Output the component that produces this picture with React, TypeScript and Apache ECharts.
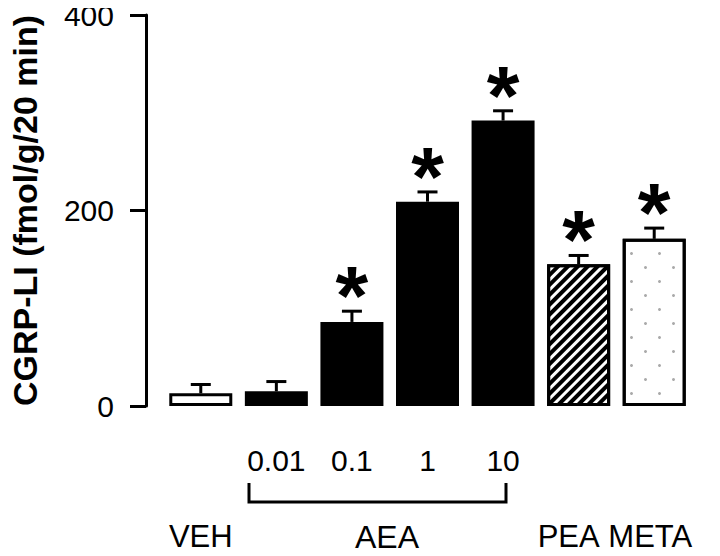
import React, { useEffect, useRef } from 'react';
import * as echarts from 'echarts';

const categories = ['VEH', '0.01', '0.1', '1', '10', 'PEA', 'META'];
const doseLabels = ['', '0.01', '0.1', '1', '10', '', ''];
const groupLabels = ['VEH', '', '', '', '', 'PEA', 'META'];
const means = [13, 15, 86, 209, 292, 145, 171];
const sems = [9, 10, 11, 10, 10, 9, 11];
const significant = [0, 0, 1, 1, 1, 1, 1];
const fills = ['white', 'black', 'black', 'black', 'black', 'stripes', 'dots'];
const yMin = 0;
const yMax = 400;
const yInterval = 200;

const FONT = '"Liberation Sans", Arial, Helvetica, sans-serif';
const groupShift = [0, 0, 0, 0, 0, 20, 8];

export default function App() {
  const ref = useRef<HTMLDivElement>(null);
  useEffect(() => {
    if (!ref.current) return;
    const chart = echarts.init(ref.current, undefined, { renderer: 'svg' });

    const barData = means.map((v, i) => {
      const f = fills[i];
      const item: any = {
        value: v,
        itemStyle: {
          color: f === 'black' ? '#000' : '#fff',
          borderColor: '#000',
          borderWidth: 3,
        },
      };
      if (f === 'stripes') {
        item.itemStyle.decal = {
          symbol: 'rect',
          symbolSize: 1,
          color: '#000',
          dashArrayX: [1, 0],
          dashArrayY: [3.5, 3],
          rotation: -Math.PI / 4,
        };
      } else if (f === 'dots') {
        item.itemStyle.decal = {
          symbol: 'circle',
          symbolSize: 1,
          color: '#aaa',
          dashArrayX: [[3, 25], [0, 14, 3, 11]],
          dashArrayY: [3, 11],
          rotation: 0,
        };
      }
      return item;
    });

    const errData = means.map((m, i) => [i, m, sems[i], significant[i]]);

    const rich: any = {};
    groupShift.forEach((s, i) => {
      rich['g' + i] = { fontSize: 31, fontFamily: FONT, color: '#000', padding: [0, s, 0, 0] };
    });

    chart.setOption({
      animation: false,
      backgroundColor: '#fff',
      grid: { left: 146, right: 28, top: 13, bottom: 150 },
      xAxis: [
        {
          type: 'category',
          data: categories,
          axisLine: { show: false },
          axisTick: { show: false },
          axisLabel: {
            interval: 0,
            margin: 39,
            fontSize: 30,
            fontFamily: FONT,
            color: '#000',
            formatter: (_v: string, idx: number) => doseLabels[idx],
          },
        },
        {
          type: 'category',
          data: categories,
          position: 'bottom',
          axisLine: { show: false },
          axisTick: { show: false },
          axisLabel: {
            interval: 0,
            margin: 115,
            fontSize: 31,
            fontFamily: FONT,
            color: '#000',
            rich,
            formatter: (_v: string, idx: number) =>
              groupLabels[idx] ? '{g' + idx + '|' + groupLabels[idx] + '}' : '',
          },
        },
      ],
      yAxis: {
        type: 'value',
        min: yMin,
        max: yMax,
        interval: yInterval,
        offset: 17,
        name: 'CGRP-LI (fmol/g/20 min)',
        nameLocation: 'middle',
        nameGap: 104,
        nameTextStyle: { fontSize: 34, fontWeight: 'bold', fontFamily: FONT, color: '#000' },
        axisLine: { show: true, lineStyle: { color: '#000', width: 3 } },
        axisTick: { show: true, length: 16, lineStyle: { color: '#000', width: 3 } },
        splitLine: { show: false },
        axisLabel: { fontSize: 30, lineHeight: 26, fontFamily: FONT, color: '#000', margin: 32 },
      },
      series: [
        {
          type: 'bar',
          data: barData,
          barWidth: 63,
          xAxisIndex: 0,
          z: 2,
        },
        {
          type: 'custom',
          xAxisIndex: 0,
          z: 3,
          data: errData,
          encode: { x: 0, y: 1 },
          renderItem: (params: any, api: any) => {
            const i = api.value(0);
            const m = api.value(1);
            const e = api.value(2);
            const s = api.value(3);
            const base = api.coord([i, m]);
            const top = api.coord([i, m + e]);
            const children: any[] = [
              { type: 'line', shape: { x1: base[0], y1: base[1], x2: top[0], y2: top[1] }, style: { stroke: '#000', lineWidth: 3 } },
              { type: 'line', shape: { x1: top[0] - 10, y1: top[1], x2: top[0] + 10, y2: top[1] }, style: { stroke: '#000', lineWidth: 3 } },
            ];
            if (s) {
              children.push({
                type: 'text',
                x: top[0],
                y: top[1] + 27,
                style: {
                  text: '*',
                  font: 'bold 84px ' + FONT,
                  fill: '#000',
                  align: 'center',
                  verticalAlign: 'bottom',
                },
              });
            }
            return { type: 'group', children };
          },
        },
      ],
      graphic: [
        {
          type: 'polyline',
          shape: { points: [[249, 483], [249, 502], [506, 502], [506, 483]] },
          style: { stroke: '#000', lineWidth: 3, fill: null },
        },
        {
          type: 'text',
          x: 387,
          y: 537,
          style: { text: 'AEA', font: '32px ' + FONT, fill: '#000', align: 'center', verticalAlign: 'middle' },
        },
      ],
    });
    return () => chart.dispose();
  }, []);
  return <div ref={ref} style={{ width: 720, height: 556, margin: -8 }} />;
}
